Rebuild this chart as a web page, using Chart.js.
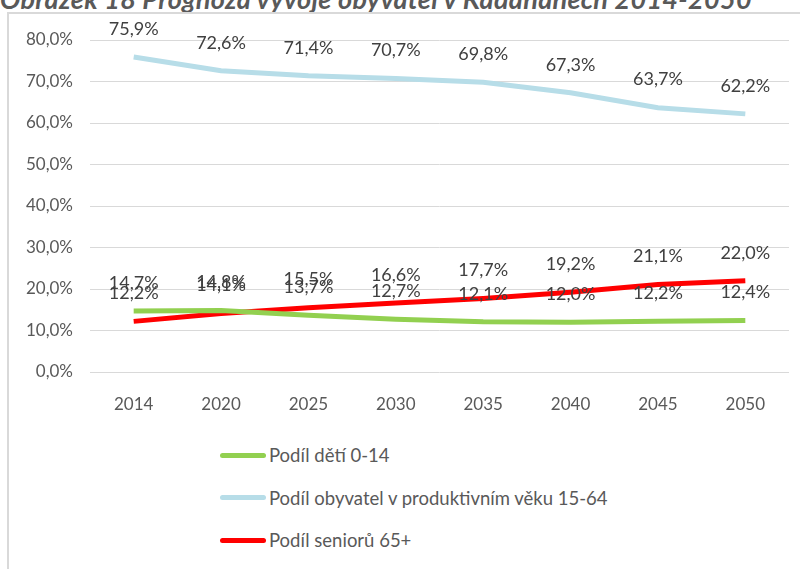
<!DOCTYPE html>
<html>
<head>
<meta charset="utf-8">
<script src="https://cdn.jsdelivr.net/npm/chart.js@4/dist/chart.umd.min.js"></script>
<style>
  body { margin: 0; background: #fff; width: 800px; height: 569px; overflow: hidden; position: relative; font-family: Lato, "Open Sans", sans-serif; }
  .title { position: absolute; left: 0px; top: -18px; font: italic bold 27px Lato, sans-serif; color: #595959; white-space: nowrap; letter-spacing: 0.3px; }
  .frame { position: absolute; left: 7px; top: 12px; width: 800px; height: 600px; border-left: 2px solid #d9d9d9; border-top: 2px solid #d9d9d9; background: #fff; }
  .wrap { position: absolute; left: 0; top: 0; width: 800px; height: 420px; }
  #legend { position: absolute; left: 220px; top: 434px; }
  .item { display: flex; align-items: center; height: 42.5px; font-size: 18.5px; color: #595959; }
  .swatch { width: 46px; height: 5px; border-radius: 3px; margin-right: 3px; }
</style>
</head>
<body>
<div class="title">Obrázek 18 Prognóza vývoje obyvatel v Kadaňanech 2014-2050</div>
<div class="frame"></div>
<div class="wrap"><canvas id="chart" width="800" height="420"></canvas></div>
<div id="legend"></div>
<script>
const years = ['2014', '2020', '2025', '2030', '2035', '2040', '2045', '2050']
const children = [14.7, 14.8, 13.7, 12.7, 12.1, 12.0, 12.2, 12.4]
const working = [75.9, 72.6, 71.4, 70.7, 69.8, 67.3, 63.7, 62.2]
const seniors = [12.2, 14.1, 15.5, 16.6, 17.7, 19.2, 21.1, 22.0]
const seriesNames = ['Podíl dětí 0-14', 'Podíl obyvatel v produktivním věku 15-64', 'Podíl seniorů 65+']
const seriesColors = ['#92d050', '#b7dde8', '#ff0000']

const pct = (v) => v.toFixed(1).replace('.', ',') + '%'

// draws the value above every point, like the excel labels
const pointLabels = {
  id: 'pointLabels',
  afterDatasetsDraw(chart) {
    const { ctx } = chart
    ctx.save()
    ctx.font = '18px Lato, sans-serif'
    ctx.fillStyle = '#404040'
    ctx.textAlign = 'center'
    ctx.textBaseline = 'middle'
    chart.data.datasets.forEach((ds, i) => {
      chart.getDatasetMeta(i).data.forEach((pt, j) => {
        ctx.fillText(pct(ds.data[j]), pt.x, pt.y - 28)
      })
    })
    ctx.restore()
  },
}

const datasets = [children, working, seniors].map((values, i) => ({
  label: seriesNames[i],
  data: values,
  borderColor: seriesColors[i],
  backgroundColor: seriesColors[i],
  borderWidth: 5,
  pointRadius: 0,
  tension: 0,
}))

const chart = new Chart(document.getElementById('chart'), {
  type: 'line',
  data: { labels: years, datasets },
  options: {
    responsive: false,
    animation: false,
    layout: { padding: { left: 0, right: 11, top: 40, bottom: 0 } },
    plugins: { legend: { display: false }, tooltip: { enabled: false } },
    scales: {
      x: {
        offset: true,
        grid: { display: false, drawTicks: false },
        border: { display: false },
        ticks: { color: '#595959', font: { size: 17, family: 'Lato' }, padding: 22 },
        afterFit: (s) => { s.height = 48 },
      },
      y: {
        min: 0,
        max: 80,
        ticks: { stepSize: 10, color: '#595959', font: { size: 17, family: 'Lato' }, padding: 17, callback: (v) => pct(v) },
        grid: { color: '#d9d9d9', drawTicks: false },
        border: { display: false },
        afterFit: (s) => { s.width = 90 },
      },
    },
  },
  plugins: [pointLabels],
})

document.getElementById('legend').innerHTML = chart.data.datasets
  .map((ds) => `<div class="item"><span class="swatch" style="background:${ds.borderColor}"></span>${ds.label}</div>`)
  .join('')
</script>
</body>
</html>
